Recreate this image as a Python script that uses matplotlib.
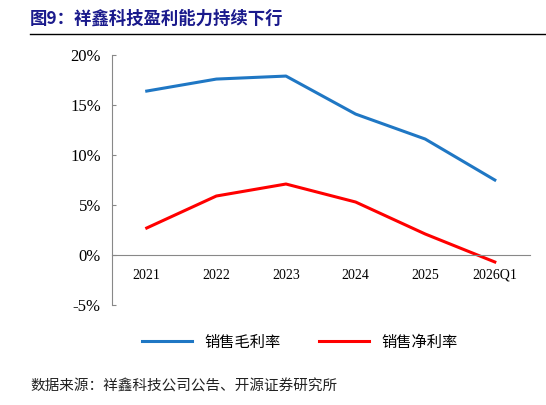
import matplotlib.pyplot as plt
import numpy as np

years = ["2021", "2022", "2023", "2024", "2025", "2026Q1"]
gross = [16.4, 17.6, 17.9, 14.1, 11.6, 7.5]
net = [2.7, 5.9, 7.1, 5.3, 2.1, -0.7]

cjk = ["Noto Sans CJK SC", "DejaVu Sans"]
plt.rcParams["font.family"] = ["Liberation Serif", "Noto Sans CJK SC"]

fig = plt.figure(figsize=(5.46, 4.05), dpi=100)
ax = fig.add_axes([0.205, 0.247, 0.765, 0.617])
x = np.arange(len(years))
ax.plot(x, gross, color="#1F77C4", lw=2.2, label="销售毛利率")
ax.plot(x, net, color="#FF0000", lw=2.2, label="销售净利率")

ax.set_ylim(-5, 20)
ax.set_xlim(-0.5, len(years) - 0.5)
ax.set_yticks(range(-5, 21, 5))
ax.set_yticklabels([f"{v}%" for v in range(-5, 21, 5)], fontsize=12)
ax.set_xticks(x)
ax.set_xticklabels(years, fontsize=12)
ax.spines["top"].set_visible(False)
ax.spines["right"].set_visible(False)
ax.spines["bottom"].set_position(("data", 0))
ax.spines["bottom"].set_color("#888888")
ax.spines["left"].set_color("#888888")
ax.tick_params(axis="x", length=0, pad=10)
ax.tick_params(axis="y", direction="in", length=3, color="#888888", pad=8)

ax.legend(loc="upper center", bbox_to_anchor=(0.45, -0.06), ncol=2, frameon=False,
          prop={"family": cjk, "size": 11}, handlelength=3.3, columnspacing=2.5)

fig.text(0.055, 0.955, "图9：祥鑫科技盈利能力持续下行", family=cjk, fontsize=12.5,
         fontweight="bold", color="#1A1A8C", va="center")
fig.add_artist(plt.Line2D([0.055, 1.0], [0.915, 0.915], color="black", lw=1))
fig.text(0.055, 0.045, "数据来源：祥鑫科技公司公告、开源证券研究所", family=cjk,
         fontsize=10.5, color="#222222", va="center")

fig.savefig("out.png", dpi=100)
